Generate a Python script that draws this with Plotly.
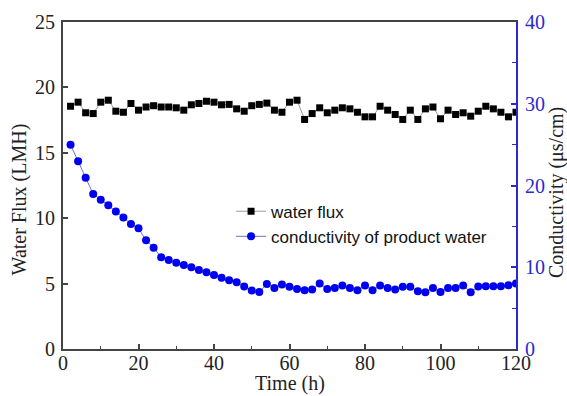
import plotly.graph_objects as go

# Sampling times (h)
time_h = list(range(2, 121, 2))

# Water flux (LMH)
water_flux = [
    18.56, 18.87, 18.06, 18.00, 18.87, 19.02, 18.18, 18.10, 18.77, 18.26,
    18.50, 18.60, 18.50, 18.50, 18.44, 18.26, 18.67, 18.77, 18.94, 18.87,
    18.67, 18.70, 18.36, 18.18, 18.60, 18.70, 18.80, 18.26, 18.10, 18.87,
    19.02, 17.55, 18.00, 18.44, 18.06, 18.26, 18.44, 18.36, 18.10, 17.75,
    17.75, 18.56, 18.26, 17.93, 17.55, 18.26, 17.55, 18.36, 18.50, 17.60,
    18.26, 17.93, 18.06, 17.80, 18.18, 18.56, 18.36, 18.10, 17.75, 18.10,
]

# Conductivity of product water (uS/cm)
conductivity = [
    24.98, 22.98, 20.95, 18.95, 18.26, 17.57, 16.83, 16.10, 15.29, 14.76,
    13.29, 12.40, 11.21, 10.89, 10.56, 10.28, 9.99, 9.67, 9.38, 9.06,
    8.73, 8.40, 8.16, 7.65, 7.16, 6.96, 7.96, 7.47, 7.88, 7.60,
    7.35, 7.18, 7.27, 8.00, 7.35, 7.47, 7.76, 7.47, 7.18, 7.76,
    7.18, 7.76, 7.47, 7.27, 7.60, 7.60, 7.06, 6.94, 7.47, 6.98,
    7.47, 7.47, 7.76, 6.94, 7.64, 7.67, 7.67, 7.67, 7.80, 8.00,
]

x_ticks = [0, 20, 40, 60, 80, 100, 120]
flux_ticks = [0, 5, 10, 15, 20, 25]
cond_ticks = [0, 10, 20, 30, 40]

AXIS_GREY = "#444444"
AXIS_BLUE = "#2a2ad0"
TEXT = "#222222"
SERIF = "Liberation Serif"

fig = go.Figure()

fig.add_trace(go.Scatter(
    x=time_h, y=water_flux, name="water flux", mode="lines+markers",
    line=dict(color="#9a9a9a", width=1),
    marker=dict(symbol="square", size=7, color="black"),
    yaxis="y",
))

fig.add_trace(go.Scatter(
    x=time_h, y=conductivity, name="conductivity of product water",
    mode="lines+markers",
    line=dict(color="#6f6fd0", width=1),
    marker=dict(symbol="circle", size=8, color="#0000f0"),
    yaxis="y2",
))

# Axis titles placed as paper-anchored text
titles = [
    dict(text="Time (h)", x=0.501, y=-0.107, textangle=0),
    dict(text="Water Flux (LMH)", x=-0.096, y=0.456, textangle=-90),
    dict(text="Conductivity (\u03bcs/cm)", x=1.089, y=0.478, textangle=-90),
]
annotations = [
    dict(text=t["text"], x=t["x"], y=t["y"], xref="paper", yref="paper",
         xanchor="center", yanchor="middle", textangle=t["textangle"],
         showarrow=False, font=dict(family=SERIF, size=20, color=TEXT))
    for t in titles
]

fig.update_layout(
    width=567, height=396,
    margin=dict(l=63, r=51, t=22, b=47),
    paper_bgcolor="white", plot_bgcolor="white",
    font=dict(family=SERIF, size=20, color=TEXT),
    showlegend=True,
    annotations=annotations,
    legend=dict(
        x=0.371, y=0.475, xanchor="left", yanchor="top",
        bgcolor="rgba(0,0,0,0)",
        font=dict(family="Liberation Sans", size=17, color="#111111"),
        tracegroupgap=0, itemwidth=30,
    ),
    xaxis=dict(
        range=[0, 120], tickvals=x_ticks,
        ticks="inside", ticklen=5, tickwidth=1.5, tickcolor=AXIS_GREY,
        minor=dict(dtick=10, ticks="inside", ticklen=3, tickwidth=1.2,
                   tickcolor=AXIS_GREY),
        showline=True, linecolor=AXIS_GREY, linewidth=1.8, mirror=True,
        showgrid=False, zeroline=False,
        tickfont=dict(family=SERIF, size=20, color=TEXT),
        ticklabelstandoff=-5,
        automargin=False,
    ),
    yaxis=dict(
        range=[0, 25], tickvals=flux_ticks,
        ticks="inside", ticklen=5, tickwidth=1.5, tickcolor=AXIS_GREY,
        showline=True, linecolor=AXIS_GREY, linewidth=1.8,
        showgrid=False, zeroline=False,
        tickfont=dict(family=SERIF, size=20, color=TEXT),
        ticklabelstandoff=2,
        automargin=False,
    ),
    yaxis2=dict(
        range=[0, 40], tickvals=cond_ticks, overlaying="y", side="right",
        ticks="inside", ticklen=5, tickwidth=1.5, tickcolor=AXIS_BLUE,
        minor=dict(dtick=5, ticks="inside", ticklen=4, tickwidth=1.2,
                   tickcolor=AXIS_BLUE),
        showline=True, linecolor=AXIS_BLUE, linewidth=1.8,
        showgrid=False, zeroline=False,
        tickfont=dict(family=SERIF, size=20, color=AXIS_BLUE),
        ticklabelstandoff=3,
        automargin=False,
    ),
)

fig.write_html("out.html")
